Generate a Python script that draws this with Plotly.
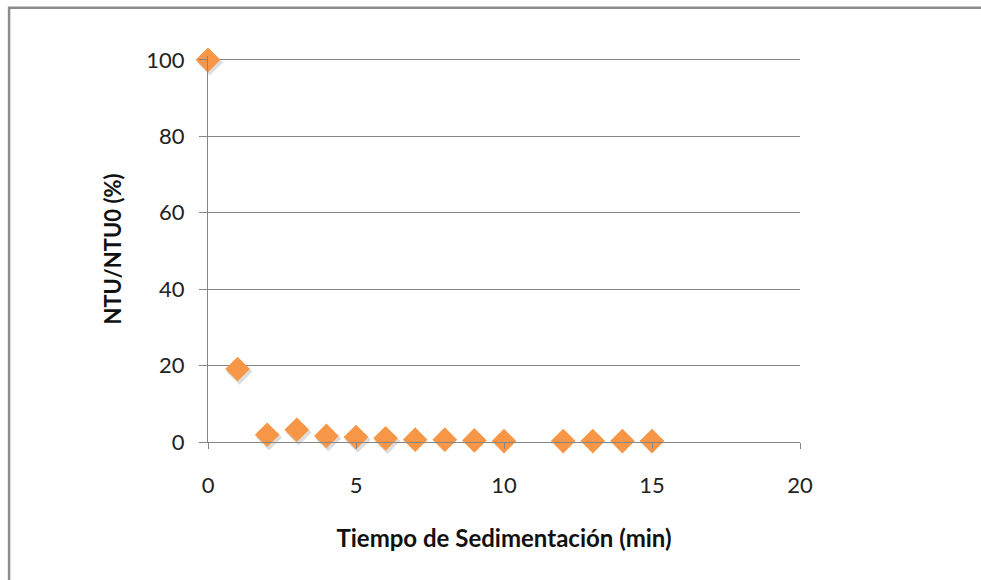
import plotly.graph_objects as go

# Sedimentation time (min) and remaining turbidity ratio NTU/NTU0 (%)
tiempo = [0, 1, 2, 3, 4, 5, 6, 7, 8, 9, 10, 12, 13, 14, 15]
ntu_ratio = [100, 19.1, 1.9, 3.2, 1.6, 1.3, 0.95, 0.6, 0.6, 0.4, 0.25, 0.25, 0.25, 0.25, 0.25]

x_ticks = [0, 5, 10, 15, 20]
y_ticks = [0, 20, 40, 60, 80, 100]

ORANGE = "#F79646"
GRID = "#868686"
FONT = "Lato, 'Open Sans', sans-serif"

fig = go.Figure()

# soft drop shadow under each marker
fig.add_trace(go.Scatter(
    x=[t + 0.06 for t in tiempo],
    y=[v - 0.7 for v in ntu_ratio],
    mode="markers",
    marker=dict(symbol="diamond", size=20, color="rgba(60,60,60,0.18)", line=dict(width=0)),
    hoverinfo="skip", showlegend=False, cliponaxis=False,
))

fig.add_trace(go.Scatter(
    x=tiempo, y=ntu_ratio,
    mode="markers",
    marker=dict(symbol="diamond", size=19, color=ORANGE, line=dict(width=0)),
    showlegend=False, cliponaxis=False,
))

# plot area is a touch taller than 0-100 so the top gridline stays inside it
fig.update_layout(
    width=981, height=580,
    margin=dict(l=208, r=181, t=56, b=138),
    paper_bgcolor="white", plot_bgcolor="white",
    font=dict(family=FONT, size=22, color="#222"),
    shapes=[dict(
        type="rect", xref="paper", yref="paper",
        x0=-0.336, x1=1.6, y0=-0.6, y1=1.125,
        line=dict(color="#8c8c8c", width=2.5), layer="below",
    )],
)

fig.update_xaxes(
    range=[0, 20], tickvals=x_ticks, showgrid=False, zeroline=False,
    showline=True, linecolor=GRID, linewidth=1,
    ticks="outside", ticklen=6, tickcolor=GRID,
    ticklabelstandoff=18,
    tickfont=dict(family=FONT, size=22, color="#222"),
    title=dict(text="<b>Tiempo de Sedimentación (min)</b>",
               font=dict(family=FONT, size=24, color="#111"), standoff=32),
)
fig.update_yaxes(
    range=[0, 101], tickvals=y_ticks, showgrid=True, gridcolor=GRID, gridwidth=1,
    zeroline=False, showline=True, linecolor=GRID, linewidth=1,
    ticks="outside", ticklen=8, tickcolor=GRID,
    ticklabelstandoff=10,
    tickfont=dict(family=FONT, size=22, color="#222"),
    title=dict(text="<b>NTU/NTU0 (%)</b>",
               font=dict(family=FONT, size=22, color="#111"), standoff=18),
)

fig.write_html("out.html")
